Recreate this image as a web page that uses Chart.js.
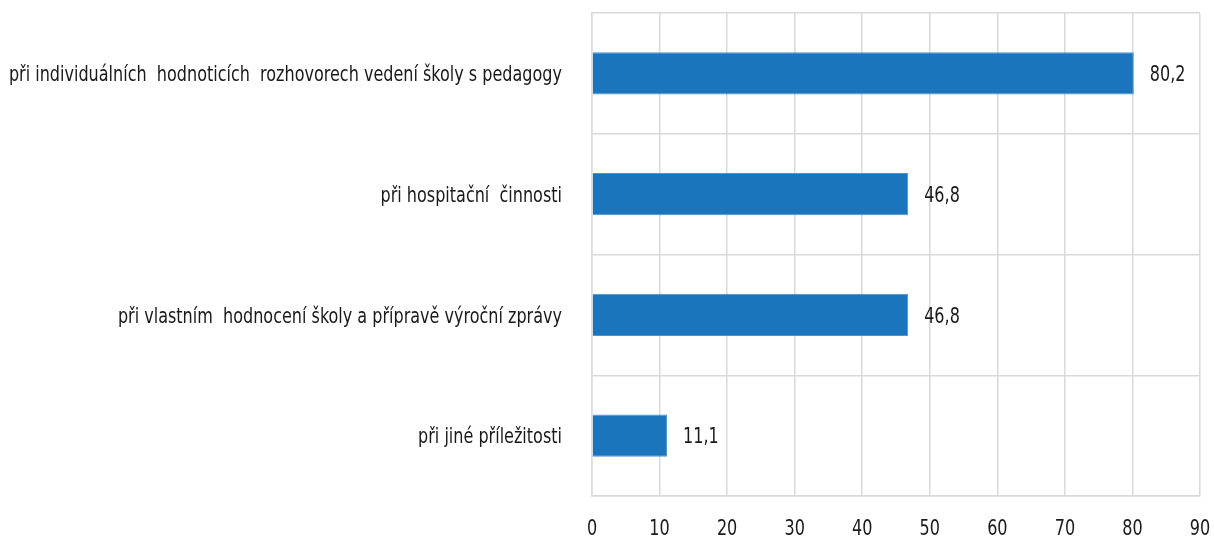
<!DOCTYPE html>
<html>
<head>
<meta charset="utf-8">
<script src="https://cdn.jsdelivr.net/npm/chart.js@4"></script>
<style>
    html, body { margin: 0; padding: 0; background: #ffffff; }
    #wrap { width: 1214px; height: 538px; }
</style>
</head>
<body>
<div id="wrap"><canvas id="graf"></canvas></div>
<script>
const kategorie = [
    "při individuálních  hodnoticích  rozhovorech vedení školy s pedagogy",
    "při hospitační  činnosti",
    "při vlastním  hodnocení školy a přípravě výroční zprávy",
    "při jiné příležitosti"
];
const hodnoty = [80.2, 46.8, 46.8, 11.1];
const osaX = [0, 10, 20, 30, 40, 50, 60, 70, 80, 90];

// úzké písmo (originál je Myriad Condensed) - DejaVu zúžené ve vodorovném směru
const pismo = "22px 'DejaVu Sans Condensed', 'DejaVu Sans', sans-serif";
const zuzeni = 0.81;
const barvaTextu = "#1a1a1a";

function formatCisla(v) {
    return v.toFixed(1).replace(".", ",");
}

function uzkyText(ctx, text, x, y, zarovnani) {
    ctx.save();
    ctx.translate(x, y);
    ctx.scale(zuzeni, 1);
    ctx.textAlign = zarovnani;
    ctx.fillText(text, 0, 0);
    ctx.restore();
}

/* popisky os a hodnot */
const popisky = {
    id: "popisky",
    afterDraw: function (chart) {
        const ctx = chart.ctx;
        const oblast = chart.chartArea;
        const sx = chart.scales.x;
        const sy = chart.scales.y;
        const meta = chart.getDatasetMeta(0);

        ctx.save();
        ctx.font = pismo;
        ctx.fillStyle = barvaTextu;
        ctx.textBaseline = "middle";

        kategorie.forEach(function (k, i) {
            uzkyText(ctx, k, oblast.left - 30, sy.getPixelForValue(i) + 2, "right");
        });

        osaX.forEach(function (v) {
            uzkyText(ctx, String(v), sx.getPixelForValue(v), oblast.bottom + 33, "center");
        });

        meta.data.forEach(function (bar, i) {
            uzkyText(ctx, formatCisla(hodnoty[i]), bar.x + 16, bar.y + 2, "left");
        });
        ctx.restore();
    }
};

const ctx = document.getElementById("graf");

new Chart(ctx, {
    type: "bar",
    data: {
        labels: kategorie,
        datasets: [{
            data: hodnoty,
            backgroundColor: "#1b75bc",
            borderColor: "#4d93cc",
            borderWidth: 1,
            categoryPercentage: 1,
            barPercentage: 0.35
        }]
    },
    options: {
        indexAxis: "y",
        responsive: true,
        maintainAspectRatio: false,
        animation: false,
        layout: { padding: { top: 13, right: 14, left: 0, bottom: 0 } },
        plugins: {
            legend: { display: false },
            tooltip: { enabled: false }
        },
        scales: {
            x: {
                min: 0,
                max: 90,
                afterBuildTicks: function (scale) {
                    scale.ticks = osaX.map(function (v) { return { value: v }; });
                },
                afterFit: function (scale) {
                    scale.height = 42;
                },
                grid: {
                    color: "#d9d9d9",
                    lineWidth: 1.5,
                    drawTicks: false
                },
                border: { color: "#d9d9d9", width: 1.5 },
                ticks: { display: false }
            },
            y: {
                afterFit: function (scale) {
                    scale.width = 592;
                },
                grid: {
                    color: "#d9d9d9",
                    lineWidth: 1.5,
                    drawTicks: false,
                    offset: true
                },
                border: { color: "#d9d9d9", width: 1.5 },
                ticks: { display: false }
            }
        }
    },
    plugins: [popisky]
});
</script>
</body>
</html>
